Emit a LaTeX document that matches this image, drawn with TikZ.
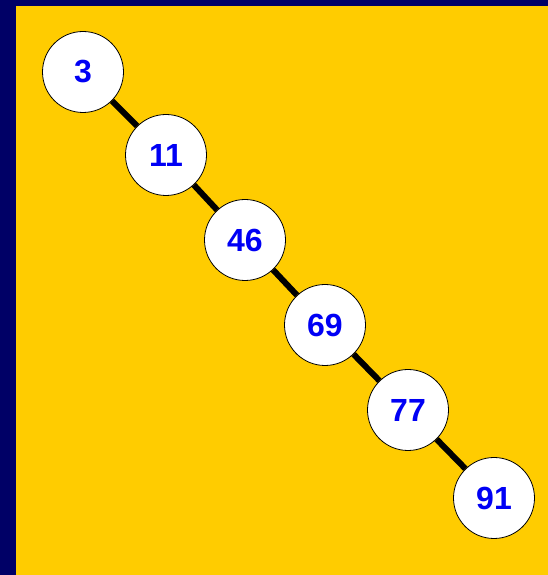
\documentclass[tikz,border=0pt]{standalone}
\usepackage{fontspec}
\setmainfont{Liberation Sans}
\newfontfamily\numfont{Liberation Sans Bold}
\definecolor{navy}{RGB}{0,0,102}
\definecolor{gold}{RGB}{255,204,0}
\definecolor{numblue}{RGB}{0,0,245}
\begin{document}
\begin{tikzpicture}[x=1pt,y=1pt,
  bst/.style={circle,draw=black,line width=0.8pt,fill=white,minimum size=81pt,inner sep=0pt,
    font=\numfont\fontsize{32}{33}\selectfont,text=numblue},
  link/.style={line width=6pt,black}]
\useasboundingbox (0,0) rectangle (548,575);
\fill[navy] (0,0) rectangle (548,575);
\fill[gold] (16,0) rectangle (548,569);
\node[bst] (n3) at (83,503) {3};
\node[bst] (n11) at (166,420) {11};
\node[bst] (n46) at (245,335) {46};
\node[bst] (n69) at (325,250) {69};
\node[bst] (n77) at (408,165) {77};
\node[bst] (n91) at (494,77) {91};
\draw[link] (n3) -- (n11);
\draw[link] (n11) -- (n46);
\draw[link] (n46) -- (n69);
\draw[link] (n69) -- (n77);
\draw[link] (n77) -- (n91);
\end{tikzpicture}
\end{document}
